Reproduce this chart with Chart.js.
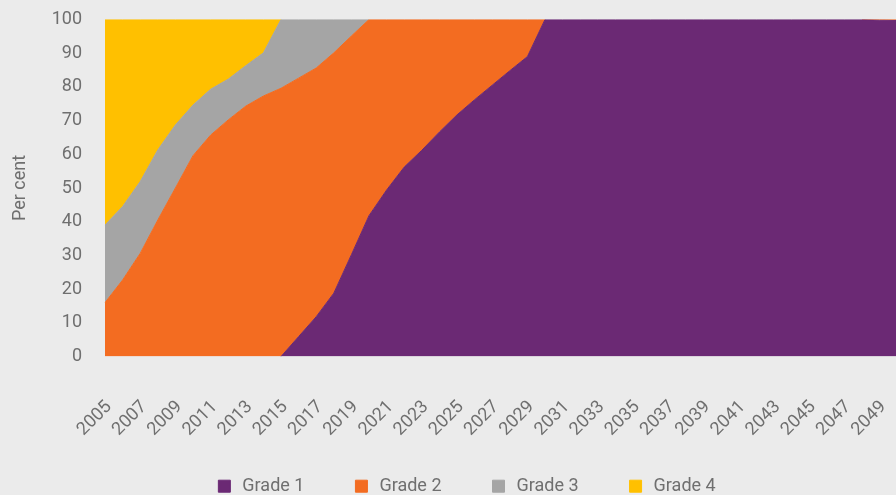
<!DOCTYPE html>
<html>
<head>
<meta charset="utf-8">
<script src="https://cdn.jsdelivr.net/npm/chart.js@4/dist/chart.umd.min.js"></script>
<style>
  html, body { margin: 0; padding: 0; overflow: hidden; background: #ebebeb; }
  #wrap { width: 931px; height: 495px; }
</style>
</head>
<body>
<div id="wrap"><canvas id="grades"></canvas></div>
<script>
const years = [
  '2005', '2006', '2007', '2008', '2009', '2010', '2011', '2012', '2013', '2014',
  '2015', '2016', '2017', '2018', '2019', '2020', '2021', '2022', '2023', '2024',
  '2025', '2026', '2027', '2028', '2029', '2030', '2031', '2032', '2033', '2034',
  '2035', '2036', '2037', '2038', '2039', '2040', '2041', '2042', '2043', '2044',
  '2045', '2046', '2047', '2048', '2049', '2050'
]

const grade1 = [
  0, 0, 0, 0, 0, 0, 0, 0, 0, 0,
  0, 5.9, 11.8, 18.8, 30.2, 41.8, 49.4, 56.2, 61.2, 66.6,
  71.7, 76.2, 80.5, 84.8, 89.0, 100, 100, 100, 100, 100,
  100, 100, 100, 100, 100, 100, 100, 100, 100, 100,
  100, 100, 100, 100, 99.8, 99.7
]

const grade2 = [
  16.0, 22.7, 30.6, 40.5, 50.0, 59.6, 65.7, 70.2, 74.3, 77.3,
  79.6, 76.7, 73.8, 71.3, 64.9, 58.2, 50.6, 43.8, 38.8, 33.4,
  28.3, 23.8, 19.5, 15.2, 11.0, 0, 0, 0, 0, 0,
  0, 0, 0, 0, 0, 0, 0, 0, 0, 0,
  0, 0, 0, 0, 0.2, 0.3
]

const grade3 = [
  23.0, 21.8, 21.3, 20.8, 18.7, 15.0, 13.6, 12.1, 12.0, 12.8,
  20.4, 17.4, 14.4, 9.9, 4.9, 0, 0, 0, 0, 0,
  0, 0, 0, 0, 0, 0, 0, 0, 0, 0,
  0, 0, 0, 0, 0, 0, 0, 0, 0, 0,
  0, 0, 0, 0, 0, 0
]

const grade4 = [
  61.0, 55.5, 48.1, 38.7, 31.3, 25.4, 20.7, 17.7, 13.7, 9.9,
  0, 0, 0, 0, 0, 0, 0, 0, 0, 0,
  0, 0, 0, 0, 0, 0, 0, 0, 0, 0,
  0, 0, 0, 0, 0, 0, 0, 0, 0, 0,
  0, 0, 0, 0, 0, 0
]

const yTicks = [0, 10, 20, 30, 40, 50, 60, 70, 80, 90, 100]

const textColor = '#6f6f6f'

// no edge stroke where a band has zero thickness
const hideFlat = ctx =>
  (ctx.p0.raw === 0 && ctx.p1.raw === 0) ? 'rgba(0,0,0,0)' : undefined

function area(label, data, color, fill) {
  return {
    label: label,
    data: data,
    backgroundColor: color,
    borderColor: color,
    borderWidth: 1,
    pointRadius: 0,
    tension: 0,
    fill: fill,
    segment: { borderColor: hideFlat }
  }
}

// legend sits low with wide gaps between items, so report a shorter box
const legendHeight = {
  id: 'legendHeight',
  beforeInit(chart) {
    const fit = chart.legend.fit
    chart.legend.fit = function () {
      fit.call(this)
      this.height = 65.8
    }
  }
}

Chart.defaults.font.family = 'Roboto'
Chart.defaults.font.size = 18
Chart.defaults.color = textColor

new Chart(document.getElementById('grades'), {
  type: 'line',
  data: {
    labels: years,
    datasets: [
      area('Grade 1', grade1, '#6b2974', 'origin'),
      area('Grade 2', grade2, '#f36c21', '-1'),
      area('Grade 3', grade3, '#a5a5a5', '-1'),
      area('Grade 4', grade4, '#ffc000', '-1')
    ]
  },
  plugins: [legendHeight],
  options: {
    responsive: true,
    maintainAspectRatio: false,
    animation: false,
    layout: { padding: { top: 19.5, right: 0, bottom: 0, left: 0 } },
    plugins: {
      legend: {
        position: 'bottom',
        labels: {
          usePointStyle: true,
          pointStyle: 'rect',
          boxWidth: 18,
          boxHeight: 12,
          padding: 48,
          color: textColor
        }
      },
      tooltip: { enabled: false }
    },
    scales: {
      x: {
        grid: { display: false, drawTicks: false },
        border: { display: false },
        ticks: {
          autoSkip: false,
          minRotation: 45,
          maxRotation: 45,
          padding: 40,
          labelOffset: 4,
          callback: (v, i) => (i % 2 === 0 ? years[i] : '')
        },
        afterFit: axis => {
          axis.height = 72.7
          axis.paddingLeft = 0
          axis.paddingRight = 34
          // year labels hang a little below the axis box
          axis._computeLabelArea = () => undefined
        }
      },
      y: {
        stacked: true,
        min: 0,
        max: 100,
        grid: { display: false, drawTicks: false },
        border: { display: false },
        afterBuildTicks: axis => { axis.ticks = yTicks.map(v => ({ value: v })) },
        ticks: { padding: 23 },
        title: {
          display: true,
          text: 'Per cent',
          padding: { top: 9.2, bottom: 0 }
        },
        afterFit: axis => {
          axis.width = 105
          axis.paddingTop = 0
          axis.paddingBottom = 0
        }
      }
    }
  }
})
</script>
</body>
</html>
